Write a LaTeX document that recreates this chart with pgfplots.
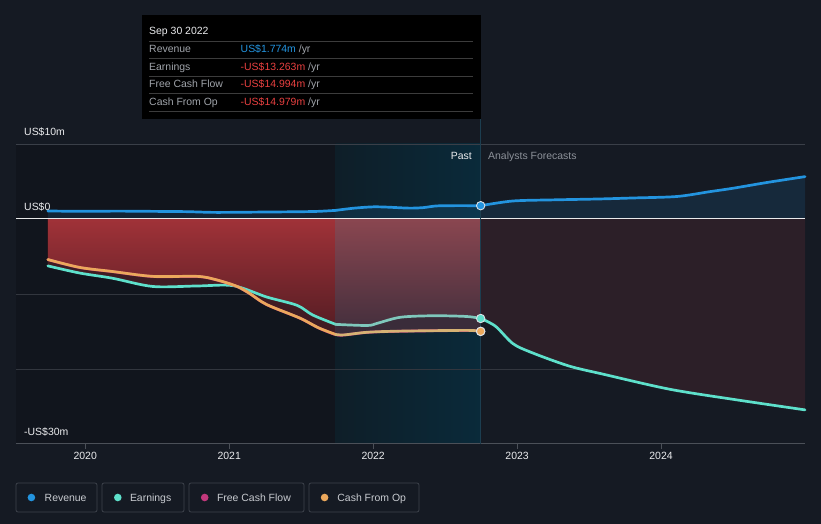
\documentclass[border=0pt]{standalone}
\usepackage{pgfplots}
\pgfplotsset{compat=1.18}
\usepackage{pgfplotstable}
\usepgfplotslibrary{fillbetween}
\usepackage{fontspec}
\setmainfont{Liberation Sans}

\definecolor{bg}{RGB}{21,26,35}
\definecolor{pastbg}{RGB}{17,21,29}
\definecolor{hlL}{RGB}{14,30,40}
\definecolor{hlR}{RGB}{10,42,58}
\definecolor{gridc}{RGB}{58,63,72}
\definecolor{gridd}{RGB}{50,54,62}
\definecolor{axisc}{RGB}{75,80,88}
\definecolor{revc}{RGB}{35,148,223}
\definecolor{earnc}{RGB}{94,224,203}
\definecolor{earnm}{RGB}{127,200,188}
\definecolor{cfoc}{RGB}{235,168,92}
\definecolor{cfom}{RGB}{214,178,116}
\definecolor{fcfc}{RGB}{194,56,124}
\definecolor{redtop}{RGB}{160,50,56}
\definecolor{redbot}{RGB}{82,28,35}
\definecolor{redmid}{RGB}{64,28,35}
\definecolor{hltop}{RGB}{138,70,80}
\definecolor{hlbot}{RGB}{64,46,60}
\definecolor{hlmid}{RGB}{58,44,58}
\definecolor{fcmar}{RGB}{44,31,40}
\definecolor{vline}{RGB}{28,62,80}
\definecolor{txtw}{RGB}{235,236,238}
\definecolor{txtg}{RGB}{140,145,153}
\definecolor{tipl}{RGB}{160,164,170}
\definecolor{tipr}{RGB}{232,64,64}
\definecolor{tipsep}{RGB}{60,60,60}
\definecolor{legc}{RGB}{61,66,75}
\definecolor{legt}{RGB}{200,203,208}
\definecolor{markedge}{RGB}{220,225,230}

% Revenue
\pgfplotstableread{
x y
2019.74 1.07
2019.98 1.02
2020.22 1.05
2020.45 1.02
2020.70 0.98
2020.90 0.88
2021.20 0.92
2021.49 0.97
2021.62 1.02
2021.74 1.15
}\revA
\pgfplotstableread{
x y
2021.74 1.15
2021.87 1.45
2022.00 1.62
2022.10 1.58
2022.25 1.45
2022.35 1.52
2022.46 1.76
2022.747 1.774
}\revB
\pgfplotstableread{
x y
2022.747 1.774
2022.97 2.40
2023.25 2.55
2023.57 2.67
2023.80 2.80
2024.11 3.00
2024.34 3.65
2024.50 4.10
2024.73 4.85
2025.00 5.65
}\revC
\pgfplotstableread{
x y
2019.74 1.07
2019.98 1.02
2020.22 1.05
2020.45 1.02
2020.70 0.98
2020.90 0.88
2021.20 0.92
2021.49 0.97
2021.62 1.02
2021.74 1.15
2021.87 1.45
2022.00 1.62
2022.10 1.58
2022.25 1.45
2022.35 1.52
2022.46 1.76
2022.747 1.774
2022.97 2.40
2023.25 2.55
2023.57 2.67
2023.80 2.80
2024.11 3.00
2024.34 3.65
2024.50 4.10
2024.73 4.85
2025.00 5.65
}\revall

% Earnings
\pgfplotstableread{
x y
2019.74 -6.25
2019.96 -7.20
2020.19 -7.90
2020.47 -9.00
2020.78 -8.93
2021.03 -8.90
2021.26 -10.40
2021.47 -11.50
2021.58 -12.80
2021.74 -14.05
}\earnA
\pgfplotstableread{
x y
2021.74 -14.05
2021.96 -14.20
2022.03 -13.90
2022.19 -13.10
2022.42 -12.90
2022.65 -13.00
2022.747 -13.263
}\earnB
\pgfplotstableread{
x y
2022.747 -13.263
2022.85 -14.30
2022.97 -16.60
2023.10 -17.80
2023.36 -19.60
2023.60 -20.70
2024.06 -22.70
2024.52 -24.10
2025.00 -25.45
}\earnC

% Cash from operations
\pgfplotstableread{
x y
2019.74 -5.40
2019.96 -6.45
2020.19 -7.00
2020.47 -7.65
2020.78 -7.65
2020.91 -8.10
2021.05 -8.95
2021.14 -9.90
2021.26 -11.40
2021.49 -13.20
2021.62 -14.50
2021.74 -15.40
}\cfoA
\pgfplotstableread{
x y
2021.74 -15.40
2021.80 -15.45
2021.96 -15.10
2022.19 -14.95
2022.65 -14.85
2022.747 -14.979
}\cfoB

% Free cash flow
\pgfplotstableread{
x y
2019.74 -5.42
2019.96 -6.47
2020.19 -7.02
2020.47 -7.67
2020.78 -7.67
2020.91 -8.12
2021.05 -8.97
2021.14 -9.92
2021.26 -11.42
2021.49 -13.22
2021.62 -14.52
2021.74 -15.42
2021.80 -15.47
2021.96 -15.12
2022.19 -14.97
2022.65 -14.87
2022.747 -14.994
}\fcf

\begin{document}
\begin{tikzpicture}[font=\fontsize{10.5}{12.6}\selectfont]
\path (-16bp,-80bp) rectangle (805bp,444bp);
\begin{axis}[
  set layers,
  at={(0,0)}, anchor=south west,
  scale only axis, width=789bp, height=300bp,
  xmin=2019.519, xmax=2025.0, ymin=-30, ymax=10,
  clip=false,
  axis x line*=bottom, axis y line=none,
  x axis line style={draw=axisc, line width=1bp},
  ytick=\empty,
  xtick={2020,2021,2022,2023,2024},
  xticklabels={2020,2021,2022,2023,2024},
  tick align=outside, major tick length=5bp,
  xtick style={draw=axisc, line width=0.8bp},
  xticklabel style={font=\fontsize{10.5}{12.6}\selectfont, text=txtw},
  every axis plot/.append style={line cap=round, line join=round},
]
% backgrounds
\begin{pgfonlayer}{axis background}
\fill[bg] (axis cs:2019.408,-40.667) rectangle (axis cs:2025.111,29.2);
\fill[pastbg] (axis cs:2019.519,-30) rectangle (axis cs:2021.74,10);
\fill[left color=hlL, right color=hlR] (axis cs:2021.74,-30) rectangle (axis cs:2022.747,10);
\draw[gridc, line width=0.9bp] (axis cs:2019.519,10) -- (axis cs:2025,10);
\draw[gridd, line width=0.8bp] (axis cs:2019.519,-10) -- (axis cs:2025,-10);
\draw[gridd, line width=0.8bp] (axis cs:2019.519,-20) -- (axis cs:2025,-20);
\end{pgfonlayer}

% named paths
\addplot[draw=none, name path=zeroall, forget plot] coordinates {(2019.74,0) (2025,0)};
\addplot[draw=none, name path=zeroA, forget plot] coordinates {(2019.74,0) (2021.74,0)};
\addplot[draw=none, name path=zeroB, forget plot] coordinates {(2021.74,0) (2022.747,0)};
\addplot[draw=none, name path=zeroC, forget plot] coordinates {(2022.747,0) (2025,0)};
\addplot[draw=none, smooth, name path=revall, forget plot] table {\revall};
\addplot[draw=none, smooth, name path=eA, forget plot] table {\earnA};
\addplot[draw=none, smooth, name path=eB, forget plot] table {\earnB};
\addplot[draw=none, smooth, name path=eC, forget plot] table {\earnC};
\addplot[draw=none, smooth, name path=cA, forget plot] table {\cfoA};
\addplot[draw=none, smooth, name path=cB, forget plot] table {\cfoB};

% fills
\addplot[fill=revc, fill opacity=0.13, draw=none] fill between[of=revall and zeroall];
\addplot[fill=fcmar, draw=none] fill between[of=zeroC and eC];
\addplot[top color=redtop, bottom color=redbot, draw=none] fill between[of=zeroA and eA];
\addplot[top color=redtop, bottom color=redbot, draw=none] fill between[of=zeroA and cA];
\addplot[fill=redmid, draw=none] fill between[of=eA and cA];
\addplot[top color=hltop, bottom color=hlbot, draw=none] fill between[of=zeroB and eB];
\addplot[top color=hltop, bottom color=hlbot, draw=none] fill between[of=zeroB and cB];
\addplot[fill=hlmid, draw=none] fill between[of=eB and cB];

% zero line and divider
\draw[white, opacity=0.9, line width=1bp] (axis cs:2019.519,0) -- (axis cs:2025,0);
\draw[vline, line width=1bp] (axis cs:2022.747,-30) -- (axis cs:2022.747,13.35);

% lines
\addplot[revc, line width=2.7bp, smooth] table {\revA};
\addplot[revc, line width=2.7bp, smooth] table {\revB};
\addplot[revc, line width=2.7bp, smooth] table {\revC};
\addplot[earnc, line width=2.7bp, smooth] table {\earnA};
\addplot[earnm, line width=2.7bp, smooth] table {\earnB};
\addplot[earnc, line width=2.7bp, smooth] table {\earnC};
\addplot[fcfc, line width=2.7bp, smooth] table {\fcf};
\addplot[cfoc, line width=2.7bp, smooth] table {\cfoA};
\addplot[cfom, line width=2.7bp, smooth] table {\cfoB};

% end markers
\addplot[only marks, mark=*, mark size=4.2bp, mark options={fill=revc, draw=markedge, line width=0.9bp}] coordinates {(2022.747,1.774)};
\addplot[only marks, mark=*, mark size=4.2bp, mark options={fill=earnc, draw=markedge, line width=0.9bp}] coordinates {(2022.747,-13.263)};
\addplot[only marks, mark=*, mark size=4.2bp, mark options={fill=fcfc, draw=markedge, line width=0.9bp}] coordinates {(2022.747,-14.994)};
\addplot[only marks, mark=*, mark size=4.2bp, mark options={fill=cfoc, draw=markedge, line width=0.9bp}] coordinates {(2022.747,-14.979)};
\end{axis}

% axis value labels
\node[anchor=base west, inner sep=0, text=txtw] at (8bp,308.3bp) {US\$10m};
\node[anchor=base west, inner sep=0, text=txtw] at (8bp,233.3bp) {US\$0};
\node[anchor=base west, inner sep=0, text=txtw] at (8bp,8.3bp) {-US\$30m};
\node[anchor=base east, inner sep=0, text=txtw] at (456bp,284.3bp) {Past};
\node[anchor=base west, inner sep=0, text=txtg] at (472bp,284.3bp) {Analysts Forecasts};

% tooltip
\fill[black] (126bp,325bp) rectangle (465bp,429bp);
\foreach \yy in {403,385.5,368,350.5,333} {\draw[tipsep, line width=0.8bp] (133bp,\yy bp) -- (457bp,\yy bp);}
\node[anchor=base west, inner sep=0, text=txtw] at (133bp,409.3bp) {Sep 30 2022};
\node[anchor=base west, inner sep=0, text=tipl] at (133bp,391bp) {Revenue};
\node[anchor=base west, inner sep=0, text=tipl] at (133bp,373.6bp) {Earnings};
\node[anchor=base west, inner sep=0, text=tipl] at (133bp,356bp) {Free Cash Flow};
\node[anchor=base west, inner sep=0, text=tipl] at (133bp,338.6bp) {Cash From Op};
\node[anchor=base west, inner sep=0] at (224.5bp,391bp) {\textcolor{revc}{US\$1.774m} \textcolor{tipl}{/yr}};
\node[anchor=base west, inner sep=0] at (224.5bp,373.6bp) {\textcolor{tipr}{-US\$13.263m} \textcolor{tipl}{/yr}};
\node[anchor=base west, inner sep=0] at (224.5bp,356bp) {\textcolor{tipr}{-US\$14.994m} \textcolor{tipl}{/yr}};
\node[anchor=base west, inner sep=0] at (224.5bp,338.6bp) {\textcolor{tipr}{-US\$14.979m} \textcolor{tipl}{/yr}};

% legend
\draw[legc, line width=0.8bp, rounded corners=2bp] (0bp,-39bp) rectangle (81bp,-68bp);
\draw[legc, line width=0.8bp, rounded corners=2bp] (86bp,-39bp) rectangle (168bp,-68bp);
\draw[legc, line width=0.8bp, rounded corners=2bp] (173bp,-39bp) rectangle (288bp,-68bp);
\draw[legc, line width=0.8bp, rounded corners=2bp] (293bp,-39bp) rectangle (403bp,-68bp);
\fill[revc] (15.4bp,-53.5bp) circle (3.8bp);
\fill[earnc] (101.8bp,-53.5bp) circle (3.8bp);
\fill[fcfc] (188.7bp,-53.5bp) circle (3.8bp);
\fill[cfoc] (308.6bp,-53.5bp) circle (3.8bp);
\node[anchor=base west, inner sep=0, text=legt] at (28.5bp,-57.2bp) {Revenue};
\node[anchor=base west, inner sep=0, text=legt] at (113.8bp,-57.2bp) {Earnings};
\node[anchor=base west, inner sep=0, text=legt] at (200.8bp,-57.2bp) {Free Cash Flow};
\node[anchor=base west, inner sep=0, text=legt] at (321.2bp,-57.2bp) {Cash From Op};
\end{tikzpicture}
\end{document}
